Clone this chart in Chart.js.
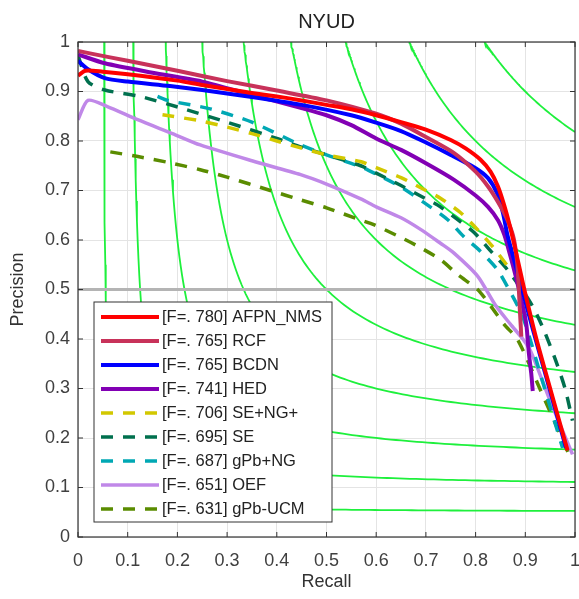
<!DOCTYPE html>
<html>
<head>
<meta charset="utf-8">
<script src="https://cdn.jsdelivr.net/npm/chart.js@4"></script>
<style>
  html, body { margin: 0; padding: 0; background: #fff; }
  #wrap { width: 579px; height: 599px; }
</style>
</head>
<body>
<div id="wrap"><canvas id="pr" width="579" height="599"></canvas></div>
<script>
// recall / precision pairs
const afpn = [[0,0.932],[0.015,0.942],[0.05,0.94],[0.1,0.935],[0.2,0.922],[0.25,0.913],[0.3,0.905],[0.35,0.897],[0.4,0.89],[0.45,0.882],[0.5,0.873],[0.55,0.864],[0.6,0.852],[0.65,0.838],[0.7,0.823],[0.75,0.802],[0.78,0.785],[0.81,0.762],[0.83,0.738],[0.845,0.708],[0.857,0.672],[0.868,0.632],[0.878,0.59],[0.888,0.545],[0.898,0.50],[0.921,0.405],[0.95,0.30],[0.985,0.175]]
const rcf = [[0,0.982],[0.024,0.977],[0.1,0.962],[0.2,0.942],[0.3,0.921],[0.4,0.902],[0.5,0.882],[0.6,0.855],[0.65,0.835],[0.7,0.808],[0.756,0.776],[0.8,0.738],[0.825,0.708],[0.845,0.677],[0.862,0.645],[0.875,0.61],[0.882,0.57],[0.886,0.52],[0.889,0.46],[0.892,0.405]]
const bcdn = [[0,0.962],[0.02,0.945],[0.054,0.927],[0.1,0.92],[0.185,0.911],[0.25,0.903],[0.35,0.889],[0.45,0.873],[0.55,0.852],[0.6,0.837],[0.65,0.82],[0.7,0.797],[0.75,0.772],[0.8,0.745],[0.825,0.725],[0.843,0.695],[0.855,0.655],[0.864,0.61],[0.876,0.565],[0.891,0.51],[0.915,0.42],[0.95,0.295],[0.982,0.18]]
const hed = [[0,0.975],[0.054,0.957],[0.15,0.938],[0.25,0.92],[0.35,0.893],[0.448,0.867],[0.5,0.852],[0.55,0.832],[0.6,0.805],[0.65,0.782],[0.7,0.755],[0.756,0.722],[0.8,0.69],[0.825,0.667],[0.845,0.64],[0.858,0.61],[0.868,0.575],[0.88,0.53],[0.893,0.475],[0.902,0.43],[0.907,0.373],[0.912,0.33],[0.915,0.295]]
const seNg = [[0.17,0.853],[0.19,0.85],[0.25,0.84],[0.3,0.828],[0.35,0.815],[0.4,0.8],[0.448,0.786],[0.5,0.772],[0.57,0.758],[0.6,0.746],[0.65,0.726],[0.7,0.7],[0.73,0.684],[0.77,0.655],[0.804,0.621],[0.834,0.587],[0.864,0.548]]
const se = [[0,0.973],[0.02,0.92],[0.054,0.903],[0.125,0.89],[0.206,0.867],[0.3,0.838],[0.4,0.805],[0.448,0.788],[0.5,0.772],[0.569,0.75],[0.6,0.735],[0.65,0.71],[0.7,0.683],[0.723,0.671],[0.764,0.641],[0.797,0.615],[0.831,0.577],[0.864,0.54],[0.9,0.49],[0.918,0.46],[0.937,0.419],[0.96,0.36],[0.98,0.3],[0.995,0.235]]
const gpbNg = [[0.16,0.89],[0.18,0.882],[0.266,0.865],[0.35,0.838],[0.448,0.792],[0.5,0.772],[0.569,0.748],[0.6,0.733],[0.65,0.707],[0.7,0.673],[0.744,0.641],[0.776,0.607],[0.81,0.577],[0.844,0.54],[0.867,0.5],[0.891,0.454],[0.905,0.415],[0.93,0.33],[0.975,0.18]]
const oef = [[0,0.843],[0.02,0.882],[0.058,0.87],[0.12,0.843],[0.19,0.815],[0.246,0.792],[0.35,0.76],[0.448,0.732],[0.5,0.713],[0.569,0.683],[0.6,0.667],[0.65,0.645],[0.69,0.621],[0.73,0.593],[0.756,0.574],[0.804,0.527],[0.84,0.468],[0.87,0.43],[0.895,0.4],[0.911,0.375],[0.95,0.275],[0.995,0.167]]
const gpbUcm = [[0.065,0.778],[0.118,0.769],[0.18,0.757],[0.246,0.742],[0.3,0.727],[0.387,0.7],[0.448,0.681],[0.5,0.665],[0.569,0.64],[0.595,0.631],[0.65,0.605],[0.69,0.584],[0.73,0.56],[0.764,0.53],[0.804,0.5],[0.831,0.466],[0.857,0.43],[0.885,0.398],[0.93,0.298],[0.986,0.171]]

const methods = ['AFPN_NMS', 'RCF', 'BCDN', 'HED', 'SE+NG+', 'SE', 'gPb+NG', 'OEF', 'gPb-UCM']
const fScores = ['780', '765', '765', '741', '706', '695', '687', '651', '631']
const isoF = [0.1, 0.2, 0.3, 0.4, 0.5, 0.6, 0.7, 0.8, 0.9]
const tickValues = [0, 0.1, 0.2, 0.3, 0.4, 0.5, 0.6, 0.7, 0.8, 0.9, 1]
const tickLabels = ['0', '0.1', '0.2', '0.3', '0.4', '0.5', '0.6', '0.7', '0.8', '0.9', '1']

const curves = [afpn, rcf, bcdn, hed, seNg, se, gpbNg, oef, gpbUcm]
const dashed = [12, 10]
const styles = [
  { color: '#ff0000', width: 4, dash: [] },
  { color: '#c8325a', width: 4, dash: [] },
  { color: '#0000ff', width: 4, dash: [] },
  { color: '#8200b4', width: 4, dash: [] },
  { color: '#d2c800', width: 3.5, dash: dashed },
  { color: '#00704e', width: 3.5, dash: dashed },
  { color: '#00a8b4', width: 3.5, dash: dashed },
  { color: '#c088e8', width: 3.5, dash: [] },
  { color: '#5a8c00', width: 3.5, dash: dashed }
]

const font = 'Liberation Sans, Arial, sans-serif'

const toXY = pts => pts.map(p => ({ x: p[0], y: p[1] }))

const datasets = []

// iso-F contours (F = 2PR/(P+R)) behind everything
isoF.forEach(f => {
  const r0 = f / (2 - f)
  const pts = []
  for (let i = 0; i <= 120; i++) {
    const t = i / 120
    const r = r0 + (1 - r0) * t * t
    pts.push({ x: r, y: f * r / (2 * r - f) })
  }
  datasets.push({
    data: pts, borderColor: '#1ef03c', borderWidth: 1.8,
    pointRadius: 0, order: 100
  })
})

datasets.push({
  data: [{ x: 0, y: 0.5 }, { x: 1, y: 0.5 }],
  borderColor: '#b4b4b4', borderWidth: 3, pointRadius: 0, order: 90
})

curves.forEach((c, i) => {
  datasets.push({
    label: methods[i],
    data: toXY(c),
    borderColor: styles[i].color,
    borderWidth: styles[i].width,
    borderDash: styles[i].dash,
    tension: 0.25,
    pointRadius: 0,
    order: i + 1
  })
})

const setTicks = scale => { scale.ticks = tickValues.map(v => ({ value: v })) }

const framePlugin = {
  id: 'frame',
  afterDatasetsDraw(chart) {
    const { ctx, chartArea: a, scales } = chart
    ctx.save()
    ctx.strokeStyle = '#333'
    ctx.lineWidth = 1.2
    ctx.strokeRect(a.left, a.top, a.right - a.left, a.bottom - a.top)
    ctx.lineWidth = 1
    ctx.beginPath()
    tickValues.forEach(v => {
      const x = scales.x.getPixelForValue(v)
      const y = scales.y.getPixelForValue(v)
      ctx.moveTo(x, a.bottom); ctx.lineTo(x, a.bottom - 5)
      ctx.moveTo(x, a.top); ctx.lineTo(x, a.top + 5)
      ctx.moveTo(a.left, y); ctx.lineTo(a.left + 5, y)
      ctx.moveTo(a.right, y); ctx.lineTo(a.right - 5, y)
    })
    ctx.stroke()
    ctx.restore()
  }
}

const legendPlugin = {
  id: 'boxLegend',
  afterDraw(chart) {
    const { ctx, chartArea: a } = chart
    const left = a.left + 16, top = a.top + 260
    const w = 238, h = 220, row = 24
    ctx.save()
    ctx.fillStyle = '#fff'
    ctx.fillRect(left, top, w, h)
    ctx.strokeStyle = '#333'
    ctx.lineWidth = 1
    ctx.strokeRect(left, top, w, h)
    ctx.font = '16.5px ' + font
    ctx.textBaseline = 'middle'
    methods.forEach((m, i) => {
      const y = top + 15 + i * row
      const s = styles[i]
      ctx.strokeStyle = s.color
      ctx.lineWidth = s.width
      ctx.setLineDash(s.dash)
      ctx.beginPath()
      ctx.moveTo(left + 7, y)
      ctx.lineTo(left + 65, y)
      ctx.stroke()
      ctx.setLineDash([])
      ctx.fillStyle = '#222'
      ctx.fillText('[F=. ' + fScores[i] + '] ' + m, left + 68, y)
    })
    ctx.restore()
  }
}

new Chart(document.getElementById('pr'), {
  type: 'line',
  data: { datasets },
  options: {
    responsive: false,
    animation: false,
    layout: { padding: { left: 0, right: 4, top: 0, bottom: 0 } },
    plugins: {
      legend: { display: false },
      tooltip: { enabled: false },
      title: {
        display: true, text: 'NYUD', fullSize: false,
        color: '#222', font: { family: font, size: 20, weight: 'normal' },
        padding: { top: 10, bottom: 8 }
      }
    },
    scales: {
      x: {
        type: 'linear', min: 0, max: 1,
        afterBuildTicks: setTicks,
        afterFit: s => { s.height = 62; s.paddingLeft = 0; s.paddingRight = 0 },
        grid: { color: '#e4e4e4', drawTicks: false },
        border: { display: false },
        ticks: {
          padding: 13, color: '#404040', font: { family: font, size: 18 },
          maxRotation: 0, autoSkip: false,
          callback: (v, i) => tickLabels[i]
        },
        title: {
          display: true, text: 'Recall', color: '#333',
          font: { family: font, size: 18 }, padding: { top: 0, bottom: 6 }
        }
      },
      y: {
        type: 'linear', min: 0, max: 1,
        afterBuildTicks: setTicks,
        afterFit: s => { s.width = 78; s.paddingTop = 0; s.paddingBottom = 0 },
        grid: { color: '#e4e4e4', drawTicks: false },
        border: { display: false },
        ticks: {
          padding: 8, color: '#404040', font: { family: font, size: 18 },
          autoSkip: false,
          callback: (v, i) => tickLabels[i]
        },
        title: {
          display: true, text: 'Precision', color: '#333',
          font: { family: font, size: 18 }, padding: { top: 7, bottom: 0 }
        }
      }
    }
  },
  plugins: [framePlugin, legendPlugin]
})
</script>
</body>
</html>
